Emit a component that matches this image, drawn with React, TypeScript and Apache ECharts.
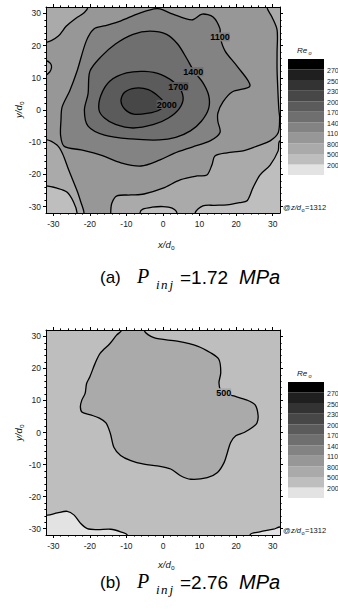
import React, { useEffect, useRef } from "react";
import * as echarts from "echarts";

const FONT = '"Liberation Sans", Arial, sans-serif';
const SERIF = '"Liberation Serif", "DejaVu Serif", serif';

// Colour bands: index 0 = below 200 ... index 10 = above 2700
const bandColors = ["#e3e3e3", "#bebebe", "#aaaaaa", "#979797", "#838383", "#6f6f6f", "#5b5b5b", "#474747", "#333333", "#1f1f1f", "#000000"];
const levelLabels = ["200", "500", "800", "1100", "1400", "1700", "2000", "2300", "2500", "2700"];
const levelPositions = [1, 2, 3, 4, 5, 6, 7, 8, 9, 10];

const majorTicks = [-30, -20, -10, 0, 10, 20, 30];
const minorTicks = [-28, -26, -24, -22, -18, -16, -14, -12, -8, -6, -4, -2, 2, 4, 6, 8, 12, 14, 16, 18, 22, 24, 26, 28];

// ---------- Panel (a): P_inj = 1.72 MPa ----------
const aBase = [[-40, -40], [40, -40], [40, 40], [-40, 40]];
const aCornerBL = [[-40, -23.6], [-32, -23.6], [-29, -24.3], [-26.3, -25.5], [-24.5, -28.5], [-23.5, -32], [-23.5, -40], [-40, -40]];
const aHump = [[-6.3, -40], [-6.3, -32], [-5.5, -30.8], [-3, -30.2], [0, -30], [2.5, -30.5], [3.8, -32], [3.8, -40]];
const aCornerBR = [[8.8, -40], [8.8, -32], [10.9, -29.8], [14, -29.6], [17.5, -29.5], [21, -28.8], [23, -28.2], [24.6, -24.2], [26.5, -20.2], [29.3, -17.1], [31.5, -12.7], [32, -9.6], [40, -9.6], [40, -40]];
const a800 = [[28.4, 40], [28.4, 32], [29.8, 28.9], [31.2, 24.9], [31.2, 18], [31.2, 12.4], [31.5, 4], [31.7, 0], [31.9, -2.5], [31.5, -7.1], [29.3, -9.6], [25.7, -11.2], [21.9, -12.7], [17.5, -13.3], [14.2, -14.3], [13.4, -17], [12, -20.2], [9.3, -20.5], [4.7, -21.7], [0, -24.3], [-5.2, -26.1], [-8.8, -26.4], [-12.6, -26.7], [-14, -29], [-14.3, -32], [-14.3, -40], [-21.6, -40], [-21.6, -32], [-22.5, -28.5], [-23.5, -25.1], [-25.7, -18.9], [-27.5, -13.5], [-29, -10.9], [-32, -9.2], [-40, -9.2], [-40, 21], [-32, 21], [-28.7, 22.9], [-26.5, 26], [-23.8, 28.5], [-21.5, 30.3], [-20.5, 32], [-20.5, 40]];
const aBump = [[-40, 15.3], [-32, 15.3], [-30.8, 14.5], [-30.5, 13.2], [-31, 11.8], [-32, 11], [-40, 11]];
const a1100 = [[-0.8, 31.4], [2.7, 29.8], [7.9, 28], [10.7, 29.8], [13.7, 28.9], [15.6, 25.2], [15.6, 22.7], [17, 18.3], [20.2, 13.7], [23.8, 7.5], [18.9, 5.6], [16.4, 2.5], [15, -1], [15, -3.5], [15.6, -7], [13, -9.5], [8, -11.5], [3, -13.5], [-0.8, -15.5], [-6, -17.4], [-11.5, -16.4], [-17, -14], [-22.4, -12.4], [-27, -11.3], [-28, -8], [-27.9, -3.1], [-27.6, 0.9], [-25.5, 6], [-23.5, 12.1], [-21, 21.4], [-18.9, 25.2], [-16.1, 26.1], [-11.5, 27.7], [-7.1, 29.8], [-2.5, 31.4]];
const a1400 = [[-21.5, 0], [-20.5, 5], [-20, 12], [-17, 16.5], [-13, 20.5], [-8.2, 23.5], [-3.6, 24.5], [1, 23.5], [4, 20.5], [6.5, 16], [8.5, 12], [10.9, 8.5], [12.5, 4.5], [12.5, 0.5], [10.5, -3.5], [7.5, -6.5], [3.5, -8.5], [-1, -9.3], [-8.7, -9], [-16, -7.8], [-20.5, -5]];
const a1700 = [[-17.5, 0], [-17, 4.5], [-14.5, 9], [-10, 11.5], [-5, 12], [-0.5, 11], [3.8, 7.8], [5.5, 4], [4.5, 0.5], [1.5, -2.5], [-2.5, -4.5], [-8.2, -5.6], [-13, -4.5], [-16, -2.5]];
const a2000 = [[-11.5, 3], [-10.5, 5.5], [-7.5, 6.8], [-4, 6.3], [-1, 4], [0.5, 1.8], [-1, 0], [-4, -1], [-8, -1.3], [-10.5, 0.3]];

const aRegions = [
  { band: 2, line: false, pts: aBase },
  { band: 1, line: true, pts: aCornerBL },
  { band: 1, line: true, pts: aHump },
  { band: 1, line: true, pts: aCornerBR },
  { band: 3, line: true, pts: a800 },
  { band: 2, line: true, pts: aBump },
  { band: 4, line: true, pts: a1100 },
  { band: 5, line: true, pts: a1400 },
  { band: 6, line: true, pts: a1700 },
  { band: 7, line: true, pts: a2000 },
];
const aLabels = [
  { text: "1100", x: 15.6, y: 22.7, band: 4 },
  { text: "1400", x: 8.3, y: 11.9, band: 5 },
  { text: "1700", x: 4.2, y: 7.3, band: 6 },
  { text: "2000", x: 1.0, y: 1.7, band: 6 },
];

// ---------- Panel (b): P_inj = 2.76 MPa ----------
const bBase = [[-40, -40], [40, -40], [40, 40], [-40, 40]];
const bCornerBL = [[-40, -25.8], [-31.6, -25.8], [-28.9, -25.1], [-26.2, -24.6], [-24.3, -25.8], [-22.5, -28.4], [-20.7, -30], [-18, -30.3], [-14.3, -30.2], [-11.6, -31], [-9.8, -32], [-9.8, -40], [-40, -40]];
const bCornerBR = [[23.8, -40], [23.8, -32], [26.5, -31], [30.2, -30.2], [32, -29.5], [40, -29.5], [40, -40]];
const b500 = [[-11.3, 40], [-11.3, 32], [-12.7, 30.4], [-14.5, 27.8], [-17.2, 24.7], [-18.6, 21.5], [-20, 17.4], [-20.9, 15.3], [-21.3, 12.2], [-22.2, 10.1], [-22.6, 8], [-22.1, 6.3], [-19.8, 5.5], [-17.4, 4.5], [-15.6, 3], [-14.4, -0.3], [-13.4, -4.7], [-11.6, -7.2], [-8.8, -8.8], [-5.2, -9.9], [-1.6, -10.4], [2.1, -11.4], [4.8, -13.5], [7.6, -14.6], [12.1, -14.1], [14.9, -12.5], [16.7, -9.4], [17.6, -6.3], [18.5, -3.1], [19.9, -1.0], [22.2, 0], [24.6, 1.7], [25.7, 3], [26, 5.4], [25.2, 8.6], [23, 10.1], [19.4, 11.4], [16.4, 12.4], [15.8, 12.9], [15.3, 15.5], [15.8, 18.7], [15.3, 22.8], [13, 24.9], [9.4, 27], [3.9, 28.5], [-2.5, 29.6], [-5.2, 32], [-5.2, 40]];

const bRegions = [
  { band: 1, line: false, pts: bBase },
  { band: 0, line: true, pts: bCornerBL },
  { band: 0, line: true, pts: bCornerBR },
  { band: 2, line: true, pts: b500 },
];
const bLabels = [{ text: "500", x: 16.6, y: 12.4, band: 2 }];

type Region = { band: number; line: boolean; pts: number[][] };
type Lab = { text: string; x: number; y: number; band: number };

function regionSeries(regions: Region[], axisIdx: number) {
  return {
    type: "custom",
    xAxisIndex: axisIdx,
    yAxisIndex: axisIdx,
    clip: true,
    silent: true,
    z: 2,
    data: regions.map((_r, i) => [0, 0, i]),
    renderItem: (params: any, api: any) => {
      const r = regions[params.dataIndex];
      return {
        type: "polygon",
        shape: { points: r.pts.map((p) => api.coord(p)), smooth: 0.3 },
        style: { fill: bandColors[r.band], stroke: r.line ? "#000" : "none", lineWidth: 1.3 },
      };
    },
  };
}

function labelSeries(labels: Lab[], axisIdx: number) {
  return {
    type: "custom",
    xAxisIndex: axisIdx,
    yAxisIndex: axisIdx,
    clip: true,
    silent: true,
    z: 3,
    data: labels.map((l) => [l.x, l.y]),
    renderItem: (params: any, api: any) => {
      const l = labels[params.dataIndex];
      const c = api.coord([l.x, l.y]);
      return {
        type: "text",
        x: c[0],
        y: c[1],
        style: {
          text: l.text,
          fill: "#000",
          font: `bold 9px ${FONT}`,
          align: "center",
          verticalAlign: "middle",
          backgroundColor: bandColors[l.band],
          padding: [0, 0],
        },
      };
    },
  };
}

function colorbarSeries(axisIdx: number) {
  return {
    type: "custom",
    xAxisIndex: axisIdx,
    yAxisIndex: axisIdx,
    silent: true,
    data: bandColors.map((_c, i) => [0, i]),
    renderItem: (params: any, api: any) => {
      const i = params.dataIndex;
      const p0 = api.coord([0, i]);
      const p1 = api.coord([1, i + 1]);
      return {
        type: "rect",
        shape: { x: p0[0], y: p1[1], width: p1[0] - p0[0], height: p0[1] - p1[1] },
        style: { fill: bandColors[i] },
      };
    },
  };
}

function colorbarLabelSeries(axisIdx: number) {
  return {
    type: "custom",
    xAxisIndex: axisIdx,
    yAxisIndex: axisIdx,
    silent: true,
    clip: false,
    data: levelPositions.map((v) => [1, v]),
    renderItem: (params: any, api: any) => {
      const v = levelPositions[params.dataIndex];
      const c = api.coord([1, v]);
      return {
        type: "text",
        x: c[0] + 3,
        y: c[1] + 1,
        style: {
          text: levelLabels[v - 1],
          fill: "#222",
          font: `7px ${FONT}`,
          align: "left",
          verticalAlign: "middle",
        },
      };
    },
  };
}

const tickLabelStyle = { fontSize: 8.5, color: "#222", fontFamily: FONT };

function xAxes(grid: number) {
  const base = { gridIndex: grid, type: "value", min: -32, max: 32, splitLine: { show: false }, z: 5 };
  const line = { show: true, onZero: false, lineStyle: { color: "#000", width: 1 } };
  return [
    { ...base, position: "bottom", axisLine: line, axisTick: { show: true, customValues: majorTicks, length: 3, lineStyle: { color: "#000" } }, axisLabel: { ...tickLabelStyle, customValues: majorTicks, margin: 6 } },
    { ...base, position: "bottom", axisLine: { show: false, onZero: false }, axisTick: { show: true, customValues: minorTicks, length: 1.6, lineStyle: { color: "#000" } }, axisLabel: { show: false } },
    { ...base, position: "top", axisLine: line, axisTick: { show: true, customValues: majorTicks, length: 3, lineStyle: { color: "#000" } }, axisLabel: { show: false } },
    { ...base, position: "top", axisLine: { show: false, onZero: false }, axisTick: { show: true, customValues: minorTicks, length: 1.6, lineStyle: { color: "#000" } }, axisLabel: { show: false } },
  ];
}
function yAxes(grid: number) {
  const base = { gridIndex: grid, type: "value", min: -32, max: 32, splitLine: { show: false }, z: 5 };
  const line = { show: true, onZero: false, lineStyle: { color: "#000", width: 1 } };
  return [
    { ...base, position: "left", axisLine: line, axisTick: { show: true, customValues: majorTicks, length: 3, lineStyle: { color: "#000" } }, axisLabel: { ...tickLabelStyle, customValues: majorTicks, margin: 5 } },
    { ...base, position: "left", axisLine: { show: false, onZero: false }, axisTick: { show: true, customValues: minorTicks, length: 1.6, lineStyle: { color: "#000" } }, axisLabel: { show: false } },
    { ...base, position: "right", axisLine: line, axisTick: { show: true, customValues: majorTicks, length: 3, lineStyle: { color: "#000" } }, axisLabel: { show: false } },
    { ...base, position: "right", axisLine: { show: false, onZero: false }, axisTick: { show: true, customValues: minorTicks, length: 1.6, lineStyle: { color: "#000" } }, axisLabel: { show: false } },
  ];
}

function txt(x: number, y: number, text: string, font: string, extra: any = {}) {
  return { type: "text", x, y, silent: true, style: { text, font, fill: "#111", verticalAlign: "middle", ...extra } };
}

function panelTexts(dy: number, capDy: number, xLabDy: number, tag: string, value: string) {
  const cap = { fill: "#000" };
  return [
    // colour bar title Re_o
    txt(297, 50 + dy, "Re", `italic 8px ${FONT}`),
    txt(308.5, 53 + dy, "o", `italic 5.5px ${FONT}`),
    // z/d_o annotation
    txt(283, 207 + dy, "@", `7.5px ${FONT}`),
    txt(291, 207 + dy, "z/d", `italic 7.5px ${FONT}`),
    txt(301.5, 209.5 + dy, "o", `5.5px ${FONT}`),
    txt(305, 207 + dy, "=1312", `7.5px ${FONT}`),
    // x axis name
    txt(158, 244 + xLabDy, "x/d", `italic 9.5px ${FONT}`),
    txt(171, 247 + xLabDy, "o", `6.5px ${FONT}`),
    // y axis name (rotated)
    {
      type: "group",
      x: 18,
      y: 110 + dy,
      rotation: Math.PI / 2,
      children: [
        txt(-8, 0, "y/d", `italic 9.5px ${FONT}`),
        txt(5, 3, "o", `6.5px ${FONT}`),
      ],
    },
    // caption
    txt(100, 277 + capDy, tag, `17px ${FONT}`, cap),
    txt(137, 276 + capDy, "P", `italic 20px ${SERIF}`, cap),
    txt(156, 284 + capDy, "i", `italic 13px ${SERIF}`, cap),
    txt(161, 284 + capDy, "n", `italic 13px ${SERIF}`, cap),
    txt(169.5, 284 + capDy, "j", `italic 13px ${SERIF}`, cap),
    txt(180, 277 + capDy, value, `19px ${FONT}`, cap),
    txt(239, 277 + capDy, "MPa", `italic 20px ${FONT}`, cap),
  ];
}

export default function App() {
  const ref = useRef<HTMLDivElement>(null);
  useEffect(() => {
    document.body.style.margin = "0";
    if (!ref.current) return;
    const chart = echarts.init(ref.current, null, { renderer: "svg" });
    const option: any = {
      animation: false,
      backgroundColor: "#ffffff",
      textStyle: { fontFamily: FONT },
      grid: [
        { left: 46, top: 7, width: 234, height: 206 },
        { left: 46, top: 330, width: 234, height: 205 },
        { left: 288, top: 59, width: 36, height: 116 },
        { left: 288, top: 382, width: 36, height: 116 },
      ],
      xAxis: [
        ...xAxes(0),
        ...xAxes(1),
        { gridIndex: 2, type: "value", min: 0, max: 1, show: false },
        { gridIndex: 3, type: "value", min: 0, max: 1, show: false },
      ],
      yAxis: [
        ...yAxes(0),
        ...yAxes(1),
        ...[2, 3].map((g) => ({
          gridIndex: g,
          type: "value",
          min: 0,
          max: 11,
          show: false,
        })),
      ],
      series: [
        regionSeries(aRegions, 0),
        labelSeries(aLabels, 0),
        regionSeries(bRegions, 4),
        labelSeries(bLabels, 4),
        colorbarSeries(8),
        colorbarSeries(9),
        colorbarLabelSeries(8),
        colorbarLabelSeries(9),
      ],
      graphic: {
        elements: [
          ...panelTexts(0, 0, 0, "(a)", "=1.72"),
          ...panelTexts(323, 305, 320, "(b)", "=2.76"),
        ],
      },
    };
    chart.setOption(option);
    return () => chart.dispose();
  }, []);
  return <div ref={ref} style={{ width: 338, height: 612 }} />;
}
